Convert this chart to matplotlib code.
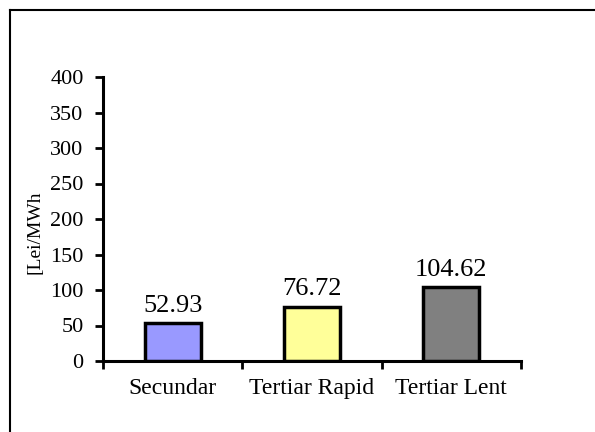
import matplotlib.pyplot as plt
from matplotlib.lines import Line2D

# data
categories = ['Secundar', 'Tertiar Rapid', 'Tertiar Lent']
values = [52.93, 76.72, 104.62]
bar_colors = ['#9999FF', '#FFFF99', '#808080']

plt.rcParams['font.family'] = ['Liberation Serif', 'DejaVu Serif']

fig = plt.figure(figsize=(5.95, 4.32), dpi=100)
ax = fig.add_axes([103/595, 1 - 361/432, 418/595, 284/432])

pos = [i + 0.5 for i in range(len(categories))]
ax.bar(pos, values, width=0.4, color=bar_colors, edgecolor='black', linewidth=2.5, zorder=3)

# value labels above bars
for x, v in zip(pos, values):
    ax.annotate(f'{v:.2f}', (x, v), xytext=(0, 8), textcoords='offset points',
                ha='center', va='baseline', fontsize=19)

ax.set_xlim(0, 3)
ax.set_ylim(0, 400)
ax.set_yticks(range(0, 401, 50))
ax.set_xticks([0, 1, 2, 3])
ax.set_xticklabels([])
ax.set_xticks(pos, minor=True)
ax.set_xticklabels(categories, minor=True, fontsize=17)
ax.tick_params(axis='x', which='minor', length=0, pad=12)
ax.tick_params(axis='x', which='major', direction='out', length=6, width=2)
ax.tick_params(axis='y', direction='out', length=6, width=2, labelsize=16, pad=8)

for s in ['top', 'right']:
    ax.spines[s].set_visible(False)
for s in ['left', 'bottom']:
    ax.spines[s].set_linewidth(2.2)

fig.text(35/595, 1 - 232/432, '[Lei/MWh', rotation=90, ha='center', va='center', fontsize=14)

# chart-area frame (cut off at right and bottom)
fig.add_artist(Line2D([10/595, 10/595], [0, 1 - 10/432], color='black', linewidth=1.5, transform=fig.transFigure))
fig.add_artist(Line2D([10/595, 1], [1 - 10/432, 1 - 10/432], color='black', linewidth=1.5, transform=fig.transFigure))

fig.savefig('out.png', dpi=100)
